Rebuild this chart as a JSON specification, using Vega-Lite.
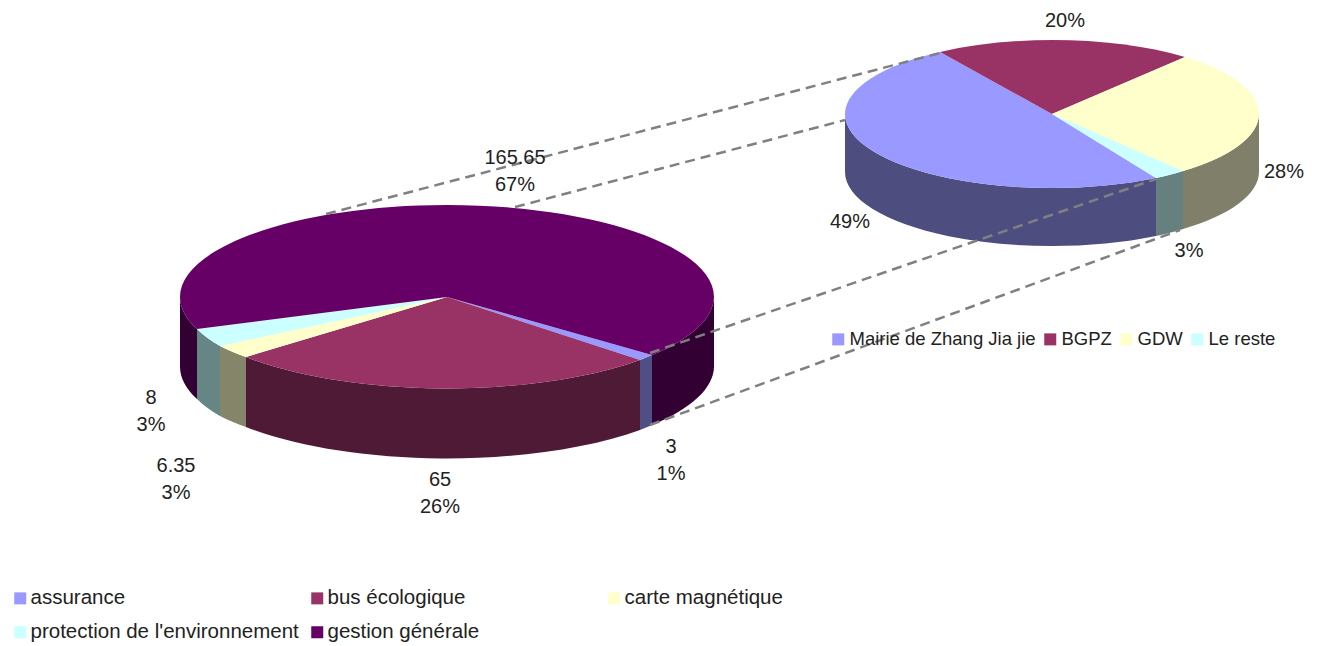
{
"$schema":"https://vega.github.io/schema/vega-lite/v6.json",
"width":1320,"height":646,"padding":0,"autosize":{"type":"none"},
"background":"white",
"view":{"stroke":null},
"config":{"font":"Liberation Sans","legend":{"labelFont":"Liberation Sans","labelColor":"#222222","labelLimit":400,"symbolType":"square","symbolSize":144,"symbolStrokeWidth":0,"padding":0}},
"datasets":{"parts":[
{"pie":"principal","slice":"assurance","value":3,"label":["3","1%"]},
{"pie":"principal","slice":"bus écologique","value":65,"label":["65","26%"]},
{"pie":"principal","slice":"carte magnétique","value":6.35,"label":["6.35","3%"]},
{"pie":"principal","slice":"protection de l'environnement","value":8,"label":["8","3%"]},
{"pie":"principal","slice":"gestion générale","value":165.65,"label":["165.65","67%"]},
{"pie":"détail","slice":"Mairie de Zhang Jia jie","value":49,"label":["49%"]},
{"pie":"détail","slice":"BGPZ","value":20,"label":["20%"]},
{"pie":"détail","slice":"GDW","value":28,"label":["28%"]},
{"pie":"détail","slice":"Le reste","value":3,"label":["3%"]}
]},
"data":{"name":"parts"},
"layer":[
{"transform":[{"filter":"datum.pie==='principal'"}],
 "mark":{"type":"point","filled":true,"opacity":1,"strokeWidth":0},
 "encoding":{
  "x":{"field":"pie","type":"nominal","axis":null,"scale":{"type":"point","padding":0,"domain":["principal","détail"],"range":[447,1052]}},
  "y":{"field":"pie","type":"nominal","axis":null,"scale":{"type":"point","padding":0,"domain":["principal","détail"],"range":[297,114]}},
  "size":{"value":4},
  "fill":{"field":"slice","type":"nominal","legend":null,"scale":{"domain":["assurance","bus écologique","carte magnétique","protection de l'environnement","gestion générale"],"range":["#4f4f85","#4f1a35","#85856a","#668585","#330033"]}},
  "shape":{"field":"slice","type":"nominal","legend":null,"scale":{"domain":["assurance","bus écologique","carte magnétique","protection de l'environnement","gestion générale"],"range":[
   "M205 58A267 92 0 0 1 193 63L193 133A267 92 0 0 0 205 128Z",
   "M193 63A267 92 0 0 1 -201 60L-201 130A267 92 0 0 0 193 133Z",
   "M-201 60A267 92 0 0 1 -227 49L-227 119A267 92 0 0 0 -201 130Z",
   "M-227 49A267 92 0 0 1 -250 32L-250 102A267 92 0 0 0 -227 119Z",
   "M267 0A267 92 0 0 1 205 58L205 128A267 92 0 0 0 267 70ZM-250 32A267 92 0 0 1 -267 0L-267 70A267 92 0 0 0 -250 102Z"]}}
 }},
{"transform":[{"filter":"datum.pie==='principal'"}],
 "mark":{"type":"point","filled":true,"opacity":1,"strokeWidth":0},
 "encoding":{
  "x":{"field":"pie","type":"nominal","axis":null,"scale":{"type":"point","padding":0,"domain":["principal","détail"],"range":[447,1052]}},
  "y":{"field":"pie","type":"nominal","axis":null,"scale":{"type":"point","padding":0,"domain":["principal","détail"],"range":[297,114]}},
  "size":{"value":4},
  "fill":{"field":"slice","type":"nominal","legend":{"title":null,"orient":"none","direction":"horizontal","legendX":10,"legendY":588,"columns":3,"gridAlign":"all","columnPadding":8,"rowPadding":13,"labelFontSize":20.5,"labelOffset":0},"scale":{"domain":["assurance","bus écologique","carte magnétique","protection de l'environnement","gestion générale"],"range":["#9999ff","#993366","#ffffcc","#ccffff","#660066"]}},
  "shape":{"field":"slice","type":"nominal","legend":null,"scale":{"domain":["gestion générale","protection de l'environnement","carte magnétique","bus écologique","assurance"],"range":[
   "M0 0L-250 32A267 92 0 0 1 -267 0A267 92 0 0 1 0 -92A267 92 0 0 1 267 0A267 92 0 0 1 205 58Z",
   "M0 0L-227 49A267 92 0 0 1 -250 32Z",
   "M0 0L-201 60A267 92 0 0 1 -227 49Z",
   "M0 0L193 63A267 92 0 0 1 -201 60Z",
   "M0 0L205 58A267 92 0 0 1 193 63Z"]}}
 }},
{"transform":[{"filter":"datum.pie==='détail' && datum.slice!=='BGPZ'"}],
 "mark":{"type":"point","filled":true,"opacity":1,"strokeWidth":0},
 "encoding":{
  "x":{"field":"pie","type":"nominal","axis":null,"scale":{"type":"point","padding":0,"domain":["principal","détail"],"range":[447,1052]}},
  "y":{"field":"pie","type":"nominal","axis":null,"scale":{"type":"point","padding":0,"domain":["principal","détail"],"range":[297,114]}},
  "size":{"value":4},
  "fill":{"field":"slice","type":"nominal","legend":null,"scale":{"domain":["Mairie de Zhang Jia jie","GDW","Le reste"],"range":["#4d4d7f","#80806a","#668080"]}},
  "shape":{"field":"slice","type":"nominal","legend":null,"scale":{"domain":["Mairie de Zhang Jia jie","GDW","Le reste"],"range":[
   "M104 64A207 74 0 0 1 -207 0L-207 58A207 74 0 0 0 104 122Z",
   "M207 0A207 74 0 0 1 131 57L131 115A207 74 0 0 0 207 58Z",
   "M131 57A207 74 0 0 1 104 64L104 122A207 74 0 0 0 131 115Z"]}}
 }},
{"transform":[{"filter":"datum.pie==='détail'"}],
 "mark":{"type":"point","filled":true,"opacity":1,"strokeWidth":0},
 "encoding":{
  "x":{"field":"pie","type":"nominal","axis":null,"scale":{"type":"point","padding":0,"domain":["principal","détail"],"range":[447,1052]}},
  "y":{"field":"pie","type":"nominal","axis":null,"scale":{"type":"point","padding":0,"domain":["principal","détail"],"range":[297,114]}},
  "size":{"value":4},
  "fill":{"field":"slice","type":"nominal","legend":{"title":null,"orient":"none","direction":"horizontal","legendX":829,"legendY":330,"columns":4,"columnPadding":5,"labelFontSize":18.5,"labelOffset":2},"scale":{"domain":["Mairie de Zhang Jia jie","BGPZ","GDW","Le reste"],"range":["#9999ff","#993366","#ffffcc","#ccffff"]}},
  "shape":{"field":"slice","type":"nominal","legend":null,"scale":{"domain":["Le reste","GDW","BGPZ","Mairie de Zhang Jia jie"],"range":[
   "M0 0L131 57A207 74 0 0 1 104 64Z",
   "M0 0L133 -57A207 74 0 0 1 131 57Z",
   "M0 0L-112 -62A207 74 0 0 1 133 -57Z",
   "M0 0L104 64A207 74 0 0 1 -207 0A207 74 0 0 1 -112 -62Z"]}}
 }},
{"transform":[{"filter":"datum.pie==='principal' && datum.slice==='assurance'"}],
 "mark":{"type":"point","filled":false,"opacity":1,"stroke":"#808080","strokeWidth":2.5,"strokeDash":[10,6],"shape":"M-121 -83L493 -244M68 -90L398 -177M203 56L709 -118M203 128L733 -67"},
 "encoding":{
  "x":{"field":"pie","type":"nominal","axis":null,"scale":{"type":"point","padding":0,"domain":["principal","détail"],"range":[447,1052]}},
  "y":{"field":"pie","type":"nominal","axis":null,"scale":{"type":"point","padding":0,"domain":["principal","détail"],"range":[297,114]}},
  "size":{"value":4}
 }},
{"transform":[{"filter":"datum.pie==='principal'"}],
 "mark":{"type":"text","font":"Liberation Sans","fontSize":20,"lineHeight":27,"color":"#222222","align":"center","baseline":"middle"},
 "encoding":{
  "text":{"field":"label"},
  "x":{"field":"value","type":"quantitative","axis":null,"scale":{"zero":false,"nice":false,"domain":[3,6.35,8,65,165.65],"range":[671,176,151,440,515]}},
  "y":{"field":"value","type":"quantitative","axis":null,"scale":{"zero":false,"nice":false,"domain":[3,6.35,8,65,165.65],"range":[447,466,398,480,158]}}
 }},
{"transform":[{"filter":"datum.pie==='détail'"}],
 "mark":{"type":"text","font":"Liberation Sans","fontSize":20,"color":"#222222","align":"center","baseline":"middle"},
 "encoding":{
  "text":{"field":"label"},
  "x":{"field":"value","type":"quantitative","axis":null,"scale":{"zero":false,"nice":false,"domain":[3,20,28,49],"range":[1189,1065,1284,850]}},
  "y":{"field":"value","type":"quantitative","axis":null,"scale":{"zero":false,"nice":false,"domain":[3,20,28,49],"range":[251,21,172,222]}}
 }}
],
"resolve":{"scale":{"x":"independent","y":"independent","fill":"independent","shape":"independent"},"legend":{"fill":"independent","shape":"independent"}}
}
